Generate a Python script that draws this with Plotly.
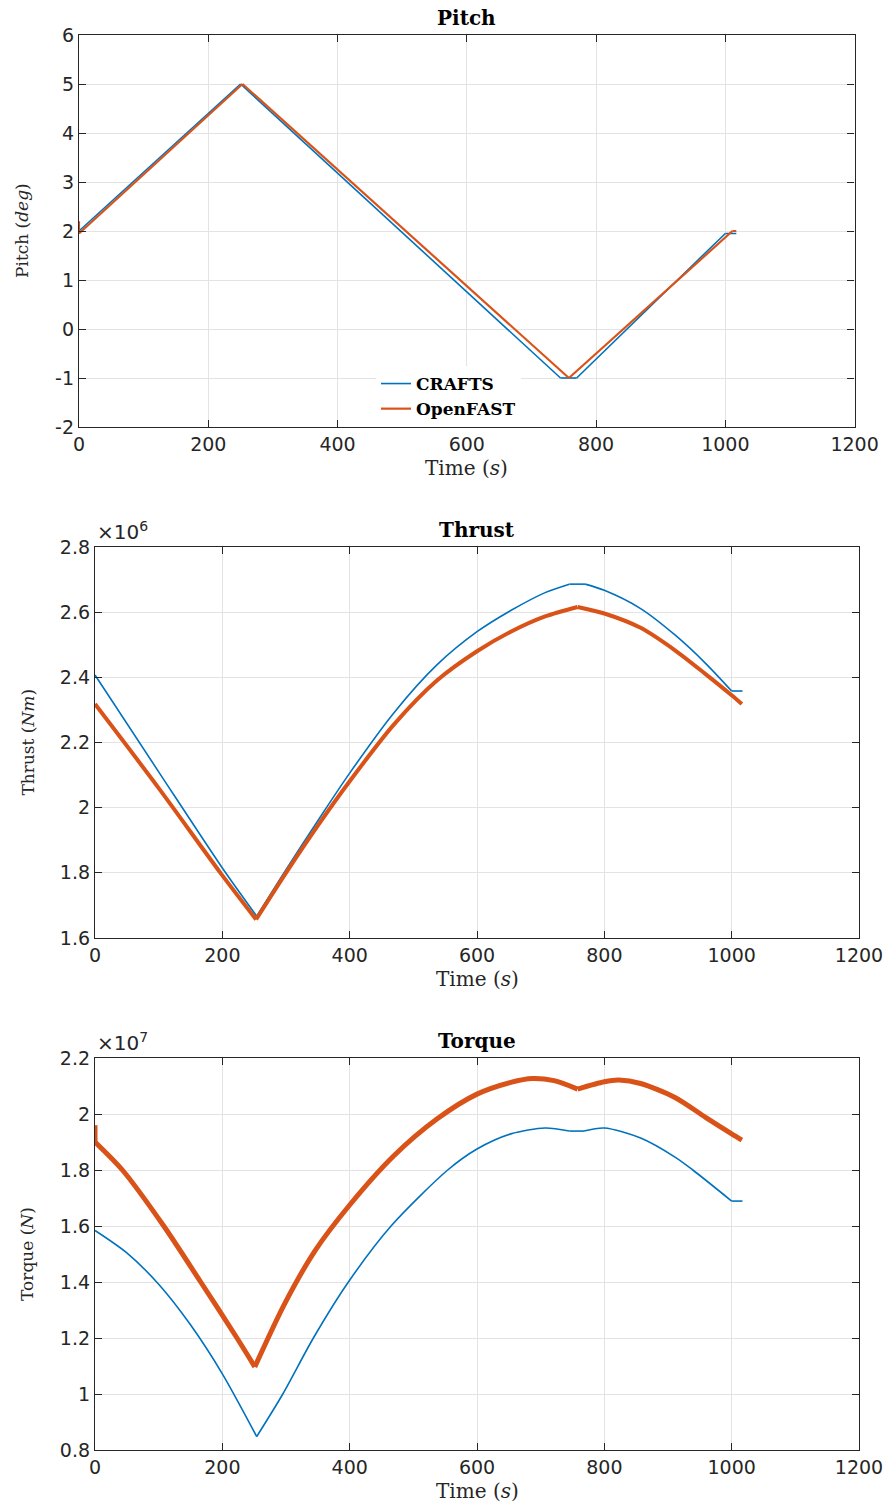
import plotly.graph_objects as go

# ---------------- data ----------------
# Pitch (deg)
pitch_crafts_t = [0, 250, 745, 770, 1000, 1017]
pitch_crafts_v = [2.0, 5.0, -1.0, -1.0, 1.95, 1.95]
pitch_ofast_t = [0, 0, 253, 758, 1011, 1017]
pitch_ofast_v = [2.2, 1.95, 5.0, -1.0, 2.0, 2.0]

# Thrust (N m)
thrust_crafts_t = [0, 100, 200, 254, 300, 350, 400, 469, 537, 600, 653, 707, 745, 770, 800, 857, 911, 959, 1000, 1017]
thrust_crafts_v = [2.407e6, 2.11e6, 1.815e6, 1.667e6, 1.81e6, 1.96e6, 2.106e6, 2.29e6, 2.438e6, 2.54e6,
                   2.605e6, 2.66e6, 2.686e6, 2.686e6, 2.667e6, 2.611e6, 2.53e6, 2.443e6, 2.358e6, 2.358e6]
thrust_ofast_t = [0, 100, 197, 253, 300, 350, 400, 469, 537, 600, 653, 707, 758, 800, 857, 911, 959, 1000, 1016]
thrust_ofast_v = [2.318e6, 2.06e6, 1.80e6, 1.657e6, 1.80e6, 1.945e6, 2.081e6, 2.254e6, 2.39e6, 2.48e6,
                  2.54e6, 2.587e6, 2.616e6, 2.596e6, 2.552e6, 2.483e6, 2.41e6, 2.345e6, 2.318e6]

# Torque (N)
torque_crafts_t = [0, 50, 100, 150, 200, 254, 295, 343, 398, 465, 554, 600, 653, 707, 745, 768, 800, 857, 911, 939, 1000, 1017]
torque_crafts_v = [1.584e7, 1.504e7, 1.392e7, 1.247e7, 1.072e7, 0.848e7, 1.00e7, 1.20e7, 1.40e7, 1.60e7, 1.80e7,
                   1.875e7, 1.929e7, 1.95e7, 1.939e7, 1.939e7, 1.95e7, 1.914e7, 1.846e7, 1.80e7,
                   1.689e7, 1.689e7]
torque_ofast_t = [0, 0, 43, 108, 166, 223, 251, 298, 346, 400, 469, 537, 600, 653, 687, 721, 758, 800, 823, 857, 911, 959, 1000, 1016]
torque_ofast_v = [1.96e7, 1.90e7, 1.80e7, 1.60e7, 1.40e7, 1.20e7, 1.097e7, 1.323e7, 1.513e7, 1.675e7, 1.85e7,
                  1.982e7, 2.071e7, 2.113e7, 2.127e7, 2.119e7, 2.089e7, 2.115e7, 2.121e7, 2.109e7, 2.059e7,
                  1.988e7, 1.929e7, 1.907e7]

# indices where a series has a sharp corner (smooth in between)
pitch_crafts_corners = [0, 1, 2, 3, 4, 5]
pitch_ofast_corners = [0, 1, 2, 3, 4, 5]
thrust_crafts_corners = [0, 3, 12, 13, 18, 19]
thrust_ofast_corners = [0, 3, 12, 18]
torque_crafts_corners = [0, 5, 14, 15, 20, 21]
torque_ofast_corners = [0, 1, 6, 16, 23]

x_ticks = [0, 200, 400, 600, 800, 1000, 1200]
pitch_ticks = [-2, -1, 0, 1, 2, 3, 4, 5, 6]
pitch_labels = ["-2", "-1", "0", "1", "2", "3", "4", "5", "6"]
thrust_ticks = [1.6e6, 1.8e6, 2.0e6, 2.2e6, 2.4e6, 2.6e6, 2.8e6]
thrust_labels = ["1.6", "1.8", "2", "2.2", "2.4", "2.6", "2.8"]
torque_ticks = [0.8e7, 1.0e7, 1.2e7, 1.4e7, 1.6e7, 1.8e7, 2.0e7, 2.2e7]
torque_labels = ["0.8", "1", "1.2", "1.4", "1.6", "1.8", "2", "2.2"]

# ---------------- styling ----------------
W, H = 891, 1508
BLUE = "#0072BD"
ORANGE = "#D95319"
AX = "#262626"
GRID = "#E3E3E3"
SANS = "DejaVu Sans"
SERIF = "DejaVu Serif"


def px_x(p):
    return p / W


def px_y(p):
    return 1 - p / H


panels = [
    # x-left, x-right, y-top, y-bottom (pixels)
    (79, 854.6, 35, 427),
    (95, 859, 547, 938),
    (95, 859, 1058, 1450),
]

fig = go.Figure()

# legend entries (drawn first so the legend lists CRAFTS then OpenFAST)
for name, c, w in [("CRAFTS", BLUE, 1.6), ("OpenFAST", ORANGE, 2.2)]:
    fig.add_trace(go.Scatter(
        x=[None], y=[None], mode="lines", name=f"<b>{name}</b>",
        line=dict(color=c, width=w), xaxis="x", yaxis="y", showlegend=True,
    ))

series = [
    (1, pitch_crafts_t, pitch_crafts_v, pitch_crafts_corners, BLUE, 1.6),
    (1, pitch_ofast_t, pitch_ofast_v, pitch_ofast_corners, ORANGE, 2.2),
    (2, thrust_crafts_t, thrust_crafts_v, thrust_crafts_corners, BLUE, 1.6),
    (2, thrust_ofast_t, thrust_ofast_v, thrust_ofast_corners, ORANGE, 4.0),
    (3, torque_crafts_t, torque_crafts_v, torque_crafts_corners, BLUE, 1.6),
    (3, torque_ofast_t, torque_ofast_v, torque_ofast_corners, ORANGE, 5.0),
]
for k, t, v, corners, c, w in series:
    for a, b in zip(corners[:-1], corners[1:]):
        fig.add_trace(go.Scatter(
            x=t[a:b + 1], y=v[a:b + 1], mode="lines", showlegend=False,
            line=dict(color=c, width=w, shape="spline", smoothing=0.8),
            xaxis="x" if k == 1 else f"x{k}", yaxis="y" if k == 1 else f"y{k}",
        ))

yspecs = [
    ([-2, 6], pitch_ticks, pitch_labels),
    ([1.6e6, 2.8e6], thrust_ticks, thrust_labels),
    ([0.8e7, 2.2e7], torque_ticks, torque_labels),
]

layout = dict(
    width=W, height=H,
    margin=dict(l=0, r=0, t=0, b=0),
    paper_bgcolor="white", plot_bgcolor="white",
    showlegend=True,
    legend=dict(
        x=px_x(376), y=px_y(366), xanchor="left", yanchor="top",
        bgcolor="white", borderwidth=0,
        font=dict(family=SERIF, size=17, color="black"),
        itemwidth=30, tracegroupgap=0,
    ),
)

annotations = []
titles = ["Pitch", "Thrust", "Torque"]
ylabels = ["Pitch (<i>deg</i>)", "Thrust (<i>Nm</i>)", "Torque (<i>N</i>)"]
ylabel_x = [22, 27, 27]
for i, (xl, xr, yt, yb) in enumerate(panels):
    k = i + 1
    xa = "xaxis" if k == 1 else f"xaxis{k}"
    ya = "yaxis" if k == 1 else f"yaxis{k}"
    rng, tv, tt = yspecs[i]
    common = dict(
        showline=True, linecolor=AX, linewidth=1.3, mirror="ticks",
        ticks="inside", ticklen=7, tickwidth=1.2, tickcolor=AX,
        showgrid=True, gridcolor=GRID, gridwidth=1,
        zeroline=False, automargin=False,
        tickfont=dict(family=SANS, size=19, color=AX),
    )
    layout[xa] = dict(
        common, domain=[px_x(xl), px_x(xr)], range=[0, 1200],
        tickvals=x_ticks, ticktext=[str(v) for v in x_ticks],
        anchor="y" if k == 1 else f"y{k}",
    )
    layout[ya] = dict(
        common, domain=[px_y(yb), px_y(yt)], range=rng,
        tickvals=tv, ticktext=tt,
        anchor="x" if k == 1 else f"x{k}",
    )
    xc = px_x((xl + xr) / 2)
    annotations.append(dict(
        text=f"<b>{titles[i]}</b>", x=xc, y=px_y(yt - 17), xref="paper", yref="paper",
        xanchor="center", yanchor="middle", showarrow=False,
        font=dict(family=SERIF, size=20, color="black"),
    ))
    annotations.append(dict(
        text="Time (<i>s</i>)", x=xc, y=px_y(yb + 41), xref="paper", yref="paper",
        xanchor="center", yanchor="middle", showarrow=False,
        font=dict(family=SERIF, size=20, color=AX),
    ))
    annotations.append(dict(
        text=ylabels[i], x=px_x(ylabel_x[i]), y=px_y((yt + yb) / 2), xref="paper", yref="paper",
        xanchor="center", yanchor="middle", showarrow=False, textangle=-90,
        font=dict(family=SERIF, size=17, color=AX),
    ))

# scale factors above the thrust and torque axes
for exp, (xl, xr, yt, yb) in zip(["6", "7"], panels[1:]):
    annotations.append(dict(
        text=f"×10<sup>{exp}</sup>", x=px_x(xl), y=px_y(yt - 1), xref="paper", yref="paper",
        xanchor="left", yanchor="bottom", showarrow=False,
        font=dict(family=SANS, size=20, color=AX),
    ))

layout["annotations"] = annotations
fig.update_layout(**layout)
fig.write_html("out.html")
